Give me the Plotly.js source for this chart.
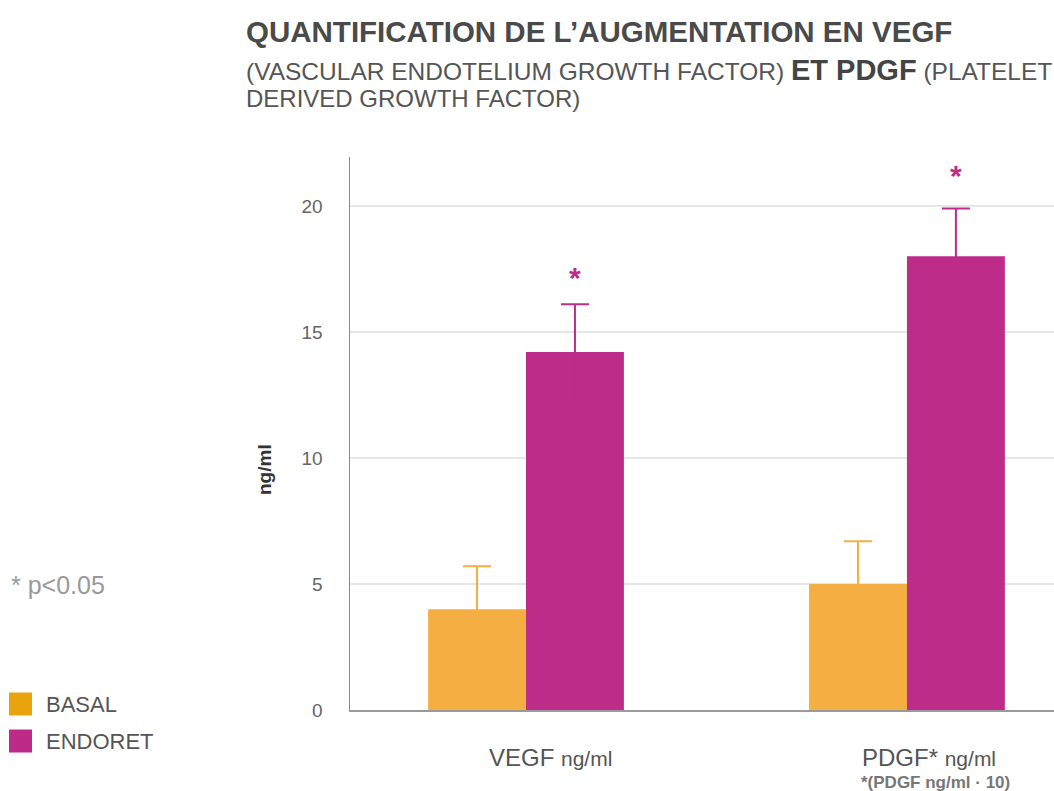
<!DOCTYPE html>
<html><head><meta charset="utf-8">
<script src="https://cdn.plot.ly/plotly-3.0.1.min.js"></script>
<style>html,body{margin:0;padding:0;background:#fff;}#chart{width:1054px;height:791px;}</style>
</head><body><div id="chart"></div>
<script>
// ---- data ----
const categories = ['VEGF', 'PDGF'];
const seriesNames = ['BASAL', 'ENDORET'];
const basalValues = [4.0, 5.0];
const basalErrors = [1.7, 1.7];
const endoretValues = [14.2, 18.0];
const endoretErrors = [1.9, 1.9];
const significant = [true, true]; // ENDORET vs BASAL, p<0.05
const xLabels = ['VEGF <span style="font-size:21px">ng/ml</span>', 'PDGF* <span style="font-size:21px">ng/ml</span>'];
const xSubLabels = ['', '<b>*(PDGF ng/ml · 10)</b>'];
const yTickVals = [0, 5, 10, 15, 20];

// ---- layout geometry ----
const W = 1054, H = 791;
const M = {l: 350, r: 0, t: 157, b: 81};
const PW = W - M.l - M.r, PH = H - M.t - M.b;
const px = x => (x - M.l) / PW;
const py = y => (H - M.b - y) / PH;

const cBasal = '#F5AE42', cEndoret = '#BC2C88';
const cBasalLeg = '#E9A30C', cEndoretLeg = '#BD2A87';
const FONT = 'Liberation Sans, Arial, sans-serif';

const traces = [
  {type: 'bar', name: seriesNames[0], x: categories, y: basalValues,
   marker: {color: cBasal, line: {width: 0}},
   error_y: {type: 'data', array: basalErrors, symmetric: true, color: cBasal, thickness: 2, width: 14}},
  {type: 'bar', name: seriesNames[1], x: categories, y: endoretValues,
   marker: {color: cEndoret, line: {width: 0}},
   error_y: {type: 'data', array: endoretErrors, symmetric: true, color: cEndoret, thickness: 2, width: 14}}
];

const annotations = [];
// Title
annotations.push({xref: 'paper', yref: 'paper', x: px(244), y: py(32), xanchor: 'left', yanchor: 'middle', showarrow: false,
  text: '<b>QUANTIFICATION DE L\u2019AUGMENTATION EN VEGF</b>', font: {family: FONT, size: 29.5, color: '#4a4a4a'}});
annotations.push({xref: 'paper', yref: 'paper', x: px(244), y: py(70), xanchor: 'left', yanchor: 'middle', showarrow: false,
  text: '(VASCULAR ENDOTELIUM GROWTH FACTOR) <span style="font-size:29px;color:#444"><b>ET PDGF</b></span> (PLATELET', font: {family: FONT, size: 24.5, color: '#555'}});
annotations.push({xref: 'paper', yref: 'paper', x: px(244), y: py(98), xanchor: 'left', yanchor: 'middle', showarrow: false,
  text: 'DERIVED GROWTH FACTOR)', font: {family: FONT, size: 24, color: '#555'}});
// y title
annotations.push({xref: 'paper', yref: 'paper', x: px(264), y: py(470), xanchor: 'center', yanchor: 'middle', showarrow: false,
  textangle: -90, text: '<b>ng/ml</b>', font: {family: FONT, size: 19, color: '#333'}});
// p-value note
annotations.push({xref: 'paper', yref: 'paper', x: px(9), y: py(585), xanchor: 'left', yanchor: 'middle', showarrow: false,
  text: '* p<0.05', font: {family: FONT, size: 25, color: '#999'}});
// legend text
const legY = [704, 741];
const legC = [cBasalLeg, cEndoretLeg];
const shapes = [];
seriesNames.forEach((n, i) => {
  annotations.push({xref: 'paper', yref: 'paper', x: px(44), y: py(legY[i]), xanchor: 'left', yanchor: 'middle', showarrow: false,
    text: n, font: {family: FONT, size: 22, color: '#555'}});
  shapes.push({type: 'rect', xref: 'paper', yref: 'paper', x0: px(9), x1: px(32), y0: py(legY[i] - 11.5), y1: py(legY[i] + 11.5),
    fillcolor: legC[i], line: {width: 0}});
});
// x labels
const xShift = [24, 22];
categories.forEach((c, i) => {
  annotations.push({xref: 'x', yref: 'paper', x: c, y: py(757), xshift: xShift[i], xanchor: 'center', yanchor: 'middle', showarrow: false,
    text: xLabels[i], font: {family: FONT, size: 24, color: '#555'}});
  if (xSubLabels[i]) {
    annotations.push({xref: 'x', yref: 'paper', x: c, y: py(782), xshift: 29, xanchor: 'center', yanchor: 'middle', showarrow: false,
      text: xSubLabels[i], font: {family: FONT, size: 17, color: '#777'}});
  }
});
// significance stars
const starShift = [27, 33];
categories.forEach((c, i) => {
  if (significant[i]) {
    annotations.push({xref: 'x', yref: 'y', x: c, y: endoretValues[i] + endoretErrors[i], xshift: 49, yshift: starShift[i],
      xanchor: 'center', yanchor: 'middle', showarrow: false, text: '<b>*</b>', font: {family: FONT, size: 30, color: cEndoret}});
  }
});

const layout = {
  width: W, height: H, margin: M,
  paper_bgcolor: '#fff', plot_bgcolor: '#fff',
  showlegend: false,
  barmode: 'group', bargap: 0.486, bargroupgap: 0,
  font: {family: FONT},
  xaxis: {type: 'category', range: [-0.462, 1.386], showticklabels: false, ticks: '', showgrid: false,
          showline: true, linecolor: '#9a9a9a', linewidth: 2, zeroline: false, fixedrange: true},
  yaxis: {range: [0, 21.94], tickvals: yTickVals, ticks: 'outside', ticklen: 22, tickcolor: 'rgba(0,0,0,0)',
          tickfont: {family: FONT, size: 19, color: '#666'}, showgrid: true, gridcolor: '#e6e6e6', gridwidth: 2,
          showline: true, linecolor: '#888', linewidth: 1.5, zeroline: false, fixedrange: true},
  annotations: annotations, shapes: shapes
};

Plotly.newPlot('chart', traces, layout, {displayModeBar: false, staticPlot: true});
</script></body></html>
